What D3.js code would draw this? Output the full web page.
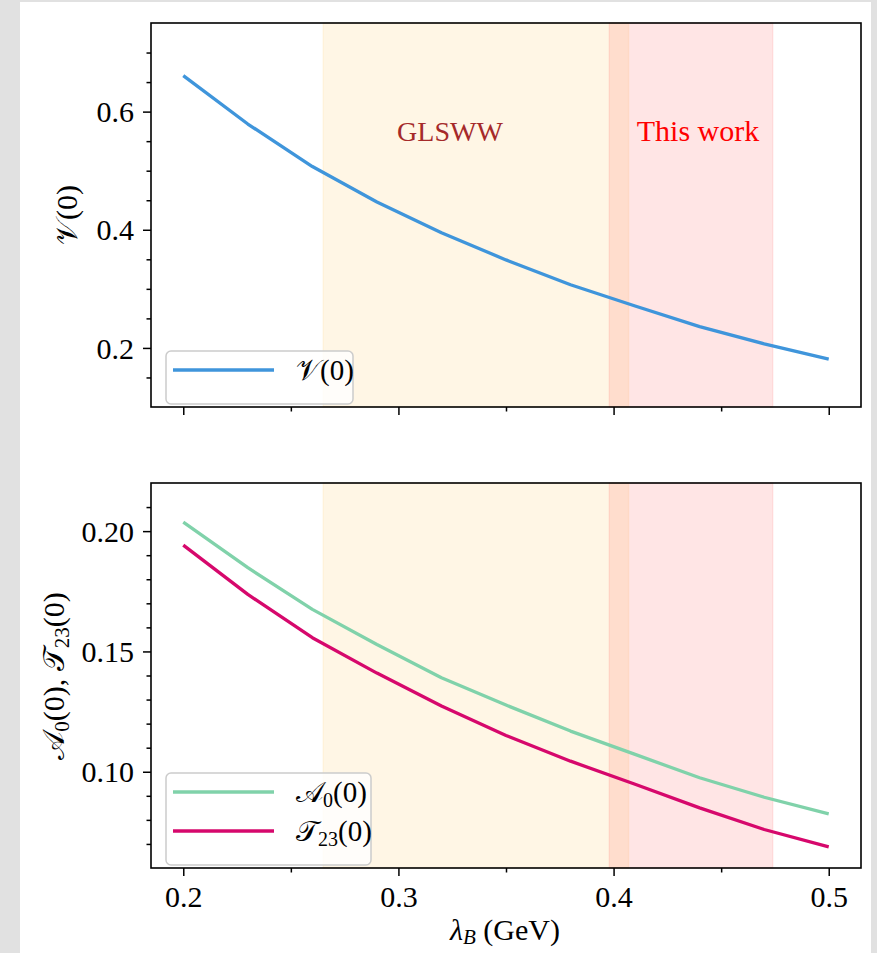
<!DOCTYPE html>
<html>
<head>
<meta charset="utf-8">
<script src="https://cdn.jsdelivr.net/npm/d3@7"></script>
<style>
  body { margin: 0; background: #e1e1e1; }
  svg { display: block; }
  text { font-family: "Liberation Serif", "Times New Roman", serif; }
</style>
</head>
<body>
<svg id="chart" width="877" height="953"></svg>
<script>
// lambda_B grid (GeV) and form factors at q^2 = 0
var lambdaB = [0.20, 0.23, 0.26, 0.29, 0.32, 0.35, 0.38, 0.41, 0.44, 0.47, 0.50];
var vValues = [0.661, 0.579, 0.507, 0.447, 0.395, 0.349, 0.307, 0.271, 0.236, 0.207, 0.181];
var a0Values = [0.2037, 0.1848, 0.1675, 0.1529, 0.1391, 0.1277, 0.1169, 0.1072, 0.0975, 0.0894, 0.0825];
var t23Values = [0.1942, 0.1737, 0.1557, 0.1410, 0.1273, 0.1151, 0.1044, 0.0948, 0.0850, 0.0760, 0.0688];

// lambda_B ranges shaded in both panels
var glswwBand = [0.265, 0.407];
var thisWorkBand = [0.398, 0.474];

var xTicks = [0.2, 0.3, 0.4, 0.5];
var xMinorTicks = [0.25, 0.35, 0.45];
var topTicks = [0.2, 0.4, 0.6];
var topMinorTicks = [0.15, 0.25, 0.3, 0.35, 0.45, 0.5, 0.55, 0.65, 0.7];
var botTicks = [0.10, 0.15, 0.20];
var botMinorTicks = [0.07, 0.08, 0.09, 0.11, 0.12, 0.13, 0.14, 0.16, 0.17, 0.18, 0.19, 0.21];

var blueColor = "#3f95db";
var greenColor = "#80d2aa";
var magentaColor = "#d6086c";
var tickFont = 30;

var svg = d3.select("#chart");
svg.append("rect").attr("x", 20).attr("y", 2).attr("width", 851).attr("height", 951).attr("fill", "#ffffff");

var x = d3.scaleLinear().domain([0.185, 0.515]).range([151, 861]);
var yTop = d3.scaleLinear().domain([0.1, 0.75]).range([407, 23]);
var yBot = d3.scaleLinear().domain([0.06, 0.22]).range([868, 483]);

function drawBands(y) {
    var g = svg.append("g");
    [[glswwBand, "#ffa500"], [thisWorkBand, "#ff0000"]].forEach(function (b) {
        g.append("rect")
            .attr("x", x(b[0][0]))
            .attr("y", y.range()[1])
            .attr("width", x(b[0][1]) - x(b[0][0]))
            .attr("height", y.range()[0] - y.range()[1])
            .attr("fill", b[1]).attr("fill-opacity", 0.1)
            .attr("stroke", b[1]).attr("stroke-opacity", 0.08).attr("stroke-width", 1.5);
    });
}

function drawLine(y, values, color) {
    var line = d3.line()
        .x(function (d, i) { return x(lambdaB[i]); })
        .y(function (d) { return y(d); });
    svg.append("path")
        .datum(values)
        .attr("d", line)
        .attr("fill", "none")
        .attr("stroke", color)
        .attr("stroke-width", 3.3)
        .attr("stroke-linejoin", "round");
}

function styleAxis(g) {
    g.select(".domain").remove();
    g.selectAll("line").attr("stroke", "#000").attr("stroke-width", 1.5);
    g.selectAll("text").attr("font-size", tickFont).attr("fill", "#000")
        .style("font-family", "'Liberation Serif', serif");
}

function drawAxes(y, majorTicks, minorTicks, fmt, showXLabels) {
    var bottom = y.range()[0];
    var left = x.range()[0];
    var gx = svg.append("g").attr("transform", "translate(0," + bottom + ")")
        .call(d3.axisBottom(x).tickValues(xTicks).tickSize(8).tickPadding(10)
            .tickFormat(showXLabels ? d3.format(".1f") : function () { return ""; }));
    styleAxis(gx);
    var gxm = svg.append("g").attr("transform", "translate(0," + bottom + ")")
        .call(d3.axisBottom(x).tickValues(xMinorTicks).tickSize(4.5).tickFormat(""));
    styleAxis(gxm);
    var gy = svg.append("g").attr("transform", "translate(" + left + ",0)")
        .call(d3.axisLeft(y).tickValues(majorTicks).tickSize(8).tickPadding(9).tickFormat(d3.format(fmt)));
    styleAxis(gy);
    gy.selectAll("text").attr("dy", "0.34em");
    var gym = svg.append("g").attr("transform", "translate(" + left + ",0)")
        .call(d3.axisLeft(y).tickValues(minorTicks).tickSize(4.5).tickFormat(""));
    styleAxis(gym);
    // frame
    svg.append("rect")
        .attr("x", left).attr("y", y.range()[1])
        .attr("width", x.range()[1] - left)
        .attr("height", bottom - y.range()[1])
        .attr("fill", "none").attr("stroke", "#000").attr("stroke-width", 1.6);
}

function drawLegend(x0, y0, w, entries) {
    var rowH = 39;
    var g = svg.append("g");
    g.append("rect")
        .attr("x", x0).attr("y", y0)
        .attr("width", w).attr("height", 14 + rowH * entries.length)
        .attr("rx", 5)
        .attr("fill", "#ffffff").attr("fill-opacity", 0.8)
        .attr("stroke", "#cccccc").attr("stroke-width", 1.5);
    entries.forEach(function (e, i) {
        var cy = y0 + 19 + i * rowH;
        g.append("line")
            .attr("x1", x0 + 7).attr("x2", x0 + 108)
            .attr("y1", cy).attr("y2", cy)
            .attr("stroke", e.color).attr("stroke-width", 3.3);
        var t = g.append("text").attr("x", x0 + 130).attr("y", cy + 10).attr("font-size", 29);
        e.label(t);
    });
}

// upper panel: V(0)
drawBands(yTop);
drawLine(yTop, vValues, blueColor);
drawAxes(yTop, topTicks, topMinorTicks, ".1f", false);

svg.append("text").attr("x", 450).attr("y", 141).attr("text-anchor", "middle")
    .attr("font-size", 28).attr("fill", "#a52a2a").text("GLSWW");
svg.append("text").attr("x", 698).attr("y", 141).attr("text-anchor", "middle")
    .attr("font-size", 30).attr("fill", "#ff0000").text("This work");

drawLegend(166, 351, 187, [
    { color: blueColor, label: function (t) { t.text("\u{1D4B1}(0)"); } }
]);

svg.append("text")
    .attr("transform", "translate(77,215) rotate(-90)")
    .attr("text-anchor", "middle").attr("font-size", 30)
    .text("\u{1D4B1}(0)");

// lower panel: A0(0) and T23(0)
drawBands(yBot);
drawLine(yBot, a0Values, greenColor);
drawLine(yBot, t23Values, magentaColor);
drawAxes(yBot, botTicks, botMinorTicks, ".2f", true);

drawLegend(166, 773, 205, [
    { color: greenColor, label: function (t) {
        t.append("tspan").text("\u{1D49C}");
        t.append("tspan").attr("font-size", 20).attr("dy", 5).text("0");
        t.append("tspan").attr("dy", -5).text("(0)");
    } },
    { color: magentaColor, label: function (t) {
        t.append("tspan").text("\u{1D4AF}");
        t.append("tspan").attr("font-size", 20).attr("dy", 5).text("23");
        t.append("tspan").attr("dy", -5).text("(0)");
    } }
]);

var yl = svg.append("text")
    .attr("transform", "translate(64,676) rotate(-90)")
    .attr("text-anchor", "middle").attr("font-size", 30);
yl.append("tspan").text("\u{1D49C}");
yl.append("tspan").attr("font-size", 21).attr("dy", 5).text("0");
yl.append("tspan").attr("dy", -5).text("(0),  \u{1D4AF}");
yl.append("tspan").attr("font-size", 21).attr("dy", 5).text("23");
yl.append("tspan").attr("dy", -5).text("(0)");

var xl = svg.append("text")
    .attr("x", 505).attr("y", 940)
    .attr("text-anchor", "middle").attr("font-size", 30);
xl.append("tspan").attr("font-style", "italic").text("\u03BB");
xl.append("tspan").attr("font-style", "italic").attr("font-size", 21).attr("dy", 4).text("B");
xl.append("tspan").attr("dy", -4).text(" (GeV)");
</script>
</body>
</html>
